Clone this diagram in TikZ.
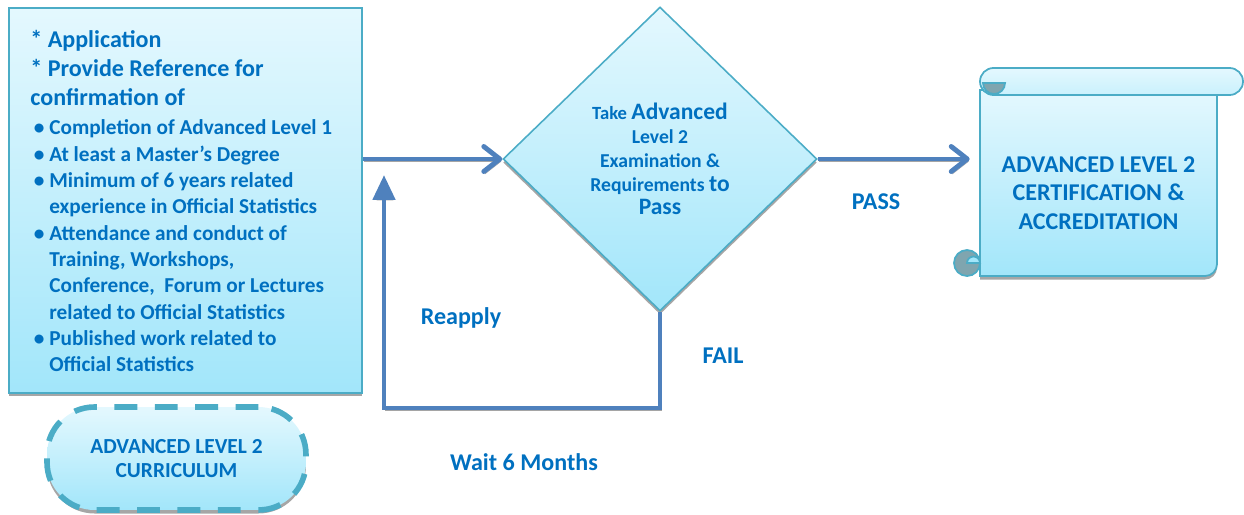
\documentclass[tikz,border=0pt]{standalone}
\usepackage{fontspec}
\setmainfont{Carlito}
\usetikzlibrary{arrows.meta,calc,positioning,shadows,shapes.geometric}

\definecolor{boxline}{RGB}{75,172,198}
\definecolor{boxtop}{RGB}{228,248,254}
\definecolor{boxbot}{RGB}{162,230,250}
\definecolor{txtblue}{RGB}{0,112,192}
\definecolor{flowblue}{RGB}{79,129,189}
\definecolor{curlgray}{RGB}{127,165,175}
\definecolor{shadowgray}{RGB}{165,165,165}

\newcommand{\lstbul}{\hspace*{2pt}\makebox[8.8pt][l]{\textbullet}}
\newcommand{\lstind}{\hspace*{10.8pt}}

\tikzset{
  panel/.style={draw=boxline, line width=1.2pt, top color=boxtop, bottom color=boxbot,
    drop shadow={shadow xshift=0pt, shadow yshift=-2pt, fill=black, opacity=0.35}},
  reqbox/.style={panel, rectangle, minimum width=7.06cm, minimum height=7.7cm},
  listtext/.style={text=txtblue, align=left, inner sep=0pt,
    font=\fontsize{12.1}{15}\selectfont\bfseries},
  decision/.style={panel, diamond, line width=0.9pt, minimum width=6.28cm, minimum height=6.08cm,
    inner sep=0pt, align=center, text=txtblue, font=\fontsize{11.2}{13.6}\selectfont\bfseries},
  terminal/.style={panel, rectangle, draw=boxline, line width=3.2pt, dash pattern=on 13pt off 10pt,
    rounded corners=0.95cm, minimum width=5.18cm, minimum height=2.06cm,
    align=center, text=txtblue, font=\fontsize{12.2}{13.6}\selectfont\bfseries},
  certtext/.style={rectangle, minimum width=4.74cm, align=center, text=txtblue,
    font=\fontsize{13.7}{16.4}\selectfont\bfseries},
  scroll/.style={draw=boxline, line width=1pt},
  lbl/.style={text=txtblue, font=\fontsize{13.7}{15}\selectfont\bfseries},
  flow/.style={flowblue, line width=2.8pt, -{Straight Barb[round, length=0.32cm, width=0.5cm]},
    preaction={draw=shadowgray, transform canvas={shift={(0.6pt,-1.4pt)}}}},
  back/.style={flowblue, line width=2.8pt, line join=miter, -{Triangle[length=0.5cm, width=0.44cm]},
    preaction={draw=shadowgray, transform canvas={shift={(0.6pt,-1.4pt)}}}}
}

\begin{document}
\begin{tikzpicture}[x=0.02cm, y=-0.02cm]
  \useasboundingbox (0,0) rectangle (1244,514);

  % requirements
  \node[reqbox] (req) at (185.5,200.5) {};
  \node[listtext, anchor=west] (reqlist) at (30,201) {%
    {\fontsize{13.7}{15}\selectfont * Application}\\[1.7pt]
    {\fontsize{13.7}{15}\selectfont * Provide Reference for}\\[1.7pt]
    {\fontsize{13.7}{15}\selectfont confirmation of}\\[1.4pt]
    \lstbul Completion of Advanced Level 1\\
    \lstbul At least a Master’s Degree\\
    \lstbul Minimum of 6 years related\\
    \lstind experience in Official Statistics\\
    \lstbul Attendance and conduct of\\
    \lstind Training, Workshops,\\
    \lstind Conference,\ \ Forum or Lectures\\
    \lstind related to Official Statistics\\
    \lstbul Published work related to\\
    \lstind Official Statistics};

  \node[terminal] (curr) at (176.5,458.5) {ADVANCED LEVEL 2\\CURRICULUM};

  % exam
  \node[decision] (exam) at (660,159) {%
    {\fontsize{10.6}{13.6}\selectfont Take} {\fontsize{13.4}{13.6}\selectfont Advanced}\\
    Level 2\\
    Examination \&\\
    Requirements {\fontsize{13.4}{13.6}\selectfont to}\\
    {\fontsize{13.4}{13.6}\selectfont Pass}};

  % scroll
  \draw[scroll, top color=boxtop, bottom color=boxbot,
    drop shadow={shadow xshift=0pt, shadow yshift=-2pt, fill=black, opacity=0.35}]
    (980,90) -- (980,276) -- (1205,276) arc[start angle=90, end angle=0, radius=12] -- (1217,90) -- cycle;
  \draw[scroll, fill=curlgray] (967,263) circle[radius=13];
  \draw[scroll, fill=boxbot] (967,263) arc[start angle=180, end angle=360, radius=6.5] -- cycle;
  \draw[scroll, top color=boxtop, bottom color=boxtop!60!boxbot, rounded corners=0.27cm]
    (980,68) rectangle (1243,95);
  \draw[scroll, fill=curlgray] (983,83) arc[start angle=180, end angle=0, radius=11] -- cycle;
  \node[certtext] (cert) at (1098.5,193) {ADVANCED LEVEL 2\\CERTIFICATION \&\\ACCREDITATION};

  % connectors
  \coordinate (waitcorner) at (384,408);
  \coordinate (retry) at (384,175);
  \draw[flow] (req.east |- exam.west) -- (exam.west);
  \draw[flow, shorten >=0.2cm] (exam.east) -- (exam.east -| cert.west);
  \draw[back] (exam.south) |- (waitcorner) -- (retry);

  \node[lbl] (pass) at (876,202) {PASS};
  \node[lbl] (fail) at (723,356) {FAIL};
  \node[lbl] (reapply) at (461,318) {Reapply};
  \node[lbl] (wait) at (524,462) {Wait 6 Months};
\end{tikzpicture}
\end{document}
